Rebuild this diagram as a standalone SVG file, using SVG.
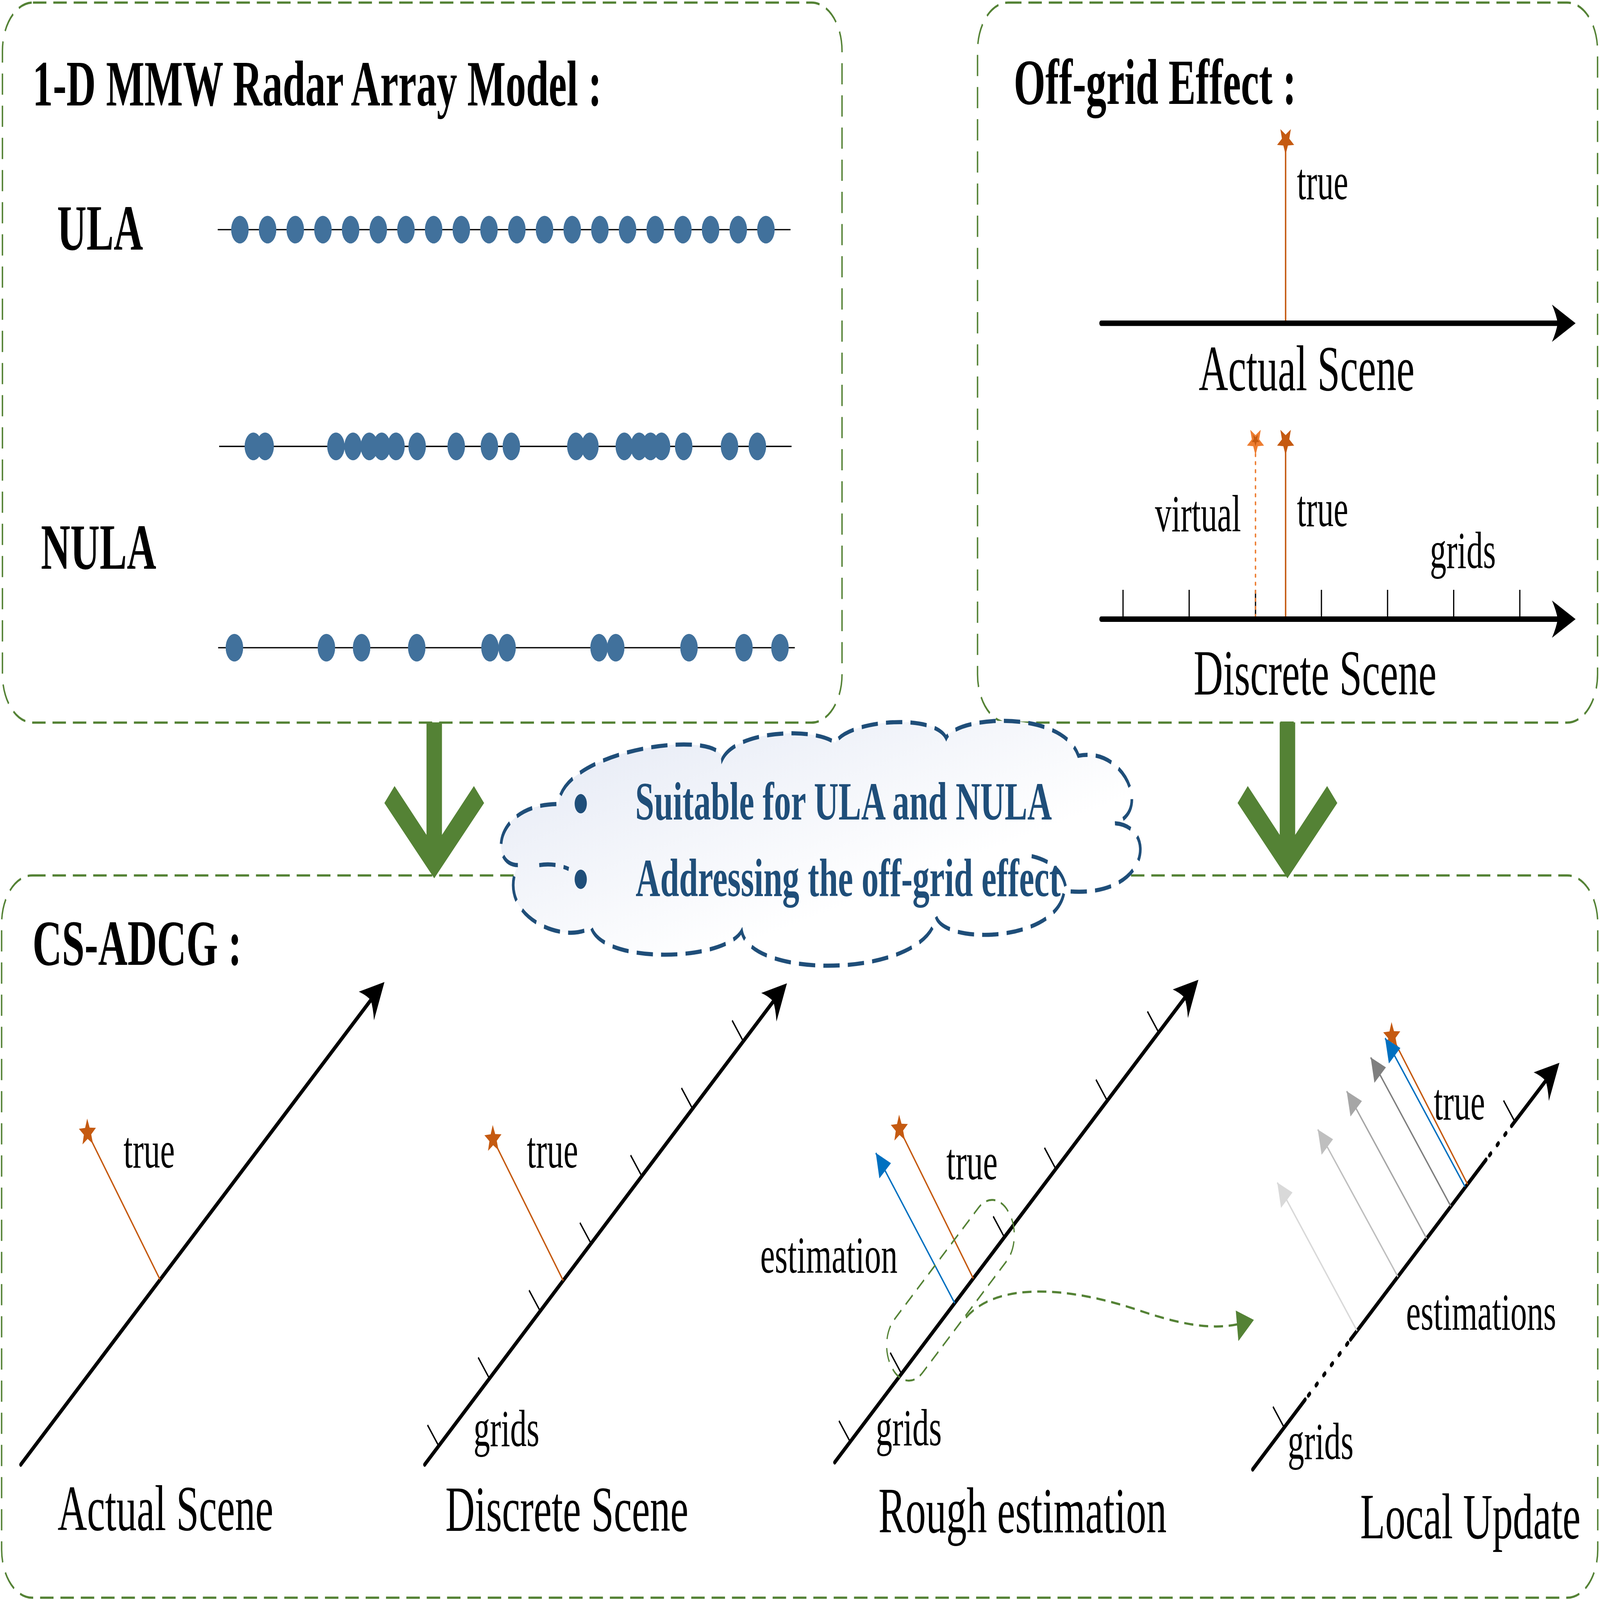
<svg xmlns="http://www.w3.org/2000/svg" width="7863" height="4975" viewBox="0 0 7863 4975" preserveAspectRatio="none">
<style>
:root{width:100vw;height:100vh}
.box{fill:none;stroke:#548235;stroke-width:7;stroke-dasharray:66 34}
.dot{fill:#41719C}
.thin{stroke:#000;stroke-width:4}
.t{font-family:"Liberation Serif","Times New Roman",serif;fill:#000}
.b{font-weight:bold}
.s{font-size:162px}
.l{font-size:200px}
.axis{stroke:#000;stroke-width:14;fill:none;stroke-linecap:round}
.haxis{stroke:#000;stroke-width:17;fill:none;stroke-linecap:round}
.dotted{stroke:#000;stroke-width:14;fill:none;stroke-linecap:round;stroke-dasharray:8 41}
.tick{stroke:#000;stroke-width:6}
.tr{stroke:#C55A11;stroke-width:7;fill:none}
.est{stroke-width:6;fill:none}
.cl{fill:none;stroke:#1F4E79;stroke-width:13;stroke-dasharray:80 40}
.ct{font-family:"Liberation Serif","Times New Roman",serif;font-weight:bold;font-size:167px;fill:#1F4E79}
.gd{fill:none;stroke:#548235;stroke-width:7;stroke-dasharray:45 28}
</style>
<defs>
<marker id="ah" markerUnits="userSpaceOnUse" orient="auto" overflow="visible" markerWidth="1" markerHeight="1" refX="0" refY="0">
<path d="M 88 0 L -28 -58 Q -6 -25 0 0 Q -6 25 -28 58 Z" fill="#000"/>
</marker>
<marker id="mb" markerUnits="userSpaceOnUse" orient="auto" overflow="visible" markerWidth="1" markerHeight="1"><path d="M 0 0 L -72 -37 L -72 37 Z" fill="#0070C0"/></marker>
<marker id="m1" markerUnits="userSpaceOnUse" orient="auto" overflow="visible" markerWidth="1" markerHeight="1"><path d="M 0 0 L -72 -37 L -72 37 Z" fill="#D9D9D9"/></marker>
<marker id="m2" markerUnits="userSpaceOnUse" orient="auto" overflow="visible" markerWidth="1" markerHeight="1"><path d="M 0 0 L -72 -37 L -72 37 Z" fill="#BFBFBF"/></marker>
<marker id="m3" markerUnits="userSpaceOnUse" orient="auto" overflow="visible" markerWidth="1" markerHeight="1"><path d="M 0 0 L -72 -37 L -72 37 Z" fill="#A6A6A6"/></marker>
<marker id="m4" markerUnits="userSpaceOnUse" orient="auto" overflow="visible" markerWidth="1" markerHeight="1"><path d="M 0 0 L -72 -37 L -72 37 Z" fill="#7F7F7F"/></marker>
<path id="star" d="M 0 44 L -11.2 15.4 L -41.9 13.6 L -18.1 -5.9 L -25.9 -35.6 L 0 -19 L 25.9 -35.6 L 18.1 -5.9 L 41.9 13.6 L 11.2 15.4 Z"/>
<linearGradient id="cg" x1="0" y1="0" x2="1" y2="1">
<stop offset="0" stop-color="#E3E8F4"/>
<stop offset="0.65" stop-color="#FFFFFF"/>
</linearGradient>
</defs>

<g id="box-array">
<rect class="box" x="12" y="8" width="4126" height="2239" rx="150" ry="150"/>
<text class="t b l" x="160" y="328">1-D MMW Radar Array Model :</text>
<text class="t b l" x="281" y="776">ULA</text>
<text class="t b l" x="201" y="1768">NULA</text>
<line class="thin" x1="1070" y1="714" x2="3885" y2="714"/>
<g class="dot">
<circle cx="1179" cy="714" r="43"/><circle cx="1315" cy="714" r="43"/><circle cx="1451" cy="714" r="43"/><circle cx="1587" cy="714" r="43"/><circle cx="1723" cy="714" r="43"/><circle cx="1859" cy="714" r="43"/><circle cx="1995" cy="714" r="43"/><circle cx="2131" cy="714" r="43"/><circle cx="2267" cy="714" r="43"/><circle cx="2403" cy="714" r="43"/><circle cx="2540" cy="714" r="43"/><circle cx="2676" cy="714" r="43"/><circle cx="2812" cy="714" r="43"/><circle cx="2948" cy="714" r="43"/><circle cx="3084" cy="714" r="43"/><circle cx="3220" cy="714" r="43"/><circle cx="3356" cy="714" r="43"/><circle cx="3492" cy="714" r="43"/><circle cx="3628" cy="714" r="43"/><circle cx="3764" cy="714" r="43"/>
</g>
<line class="thin" x1="1077" y1="1388" x2="3890" y2="1388"/>
<g class="dot">
<circle cx="1245" cy="1388" r="43"/><circle cx="1303" cy="1388" r="43"/><circle cx="1651" cy="1388" r="43"/><circle cx="1735" cy="1388" r="43"/><circle cx="1815" cy="1388" r="43"/><circle cx="1876" cy="1388" r="43"/><circle cx="1946" cy="1388" r="43"/><circle cx="2050" cy="1388" r="43"/><circle cx="2242" cy="1388" r="43"/><circle cx="2405" cy="1388" r="43"/><circle cx="2513" cy="1388" r="43"/><circle cx="2830" cy="1388" r="43"/><circle cx="2899" cy="1388" r="43"/><circle cx="3068" cy="1388" r="43"/><circle cx="3141" cy="1388" r="43"/><circle cx="3197" cy="1388" r="43"/><circle cx="3251" cy="1388" r="43"/><circle cx="3360" cy="1388" r="43"/><circle cx="3585" cy="1388" r="43"/><circle cx="3722" cy="1388" r="43"/>
</g>
<line class="thin" x1="1072" y1="2014" x2="3906" y2="2014"/>
<g class="dot">
<circle cx="1152" cy="2014" r="43"/><circle cx="1604" cy="2014" r="43"/><circle cx="1777" cy="2014" r="43"/><circle cx="2048" cy="2014" r="43"/><circle cx="2408" cy="2014" r="43"/><circle cx="2492" cy="2014" r="43"/><circle cx="2944" cy="2014" r="43"/><circle cx="3026" cy="2014" r="43"/><circle cx="3386" cy="2014" r="43"/><circle cx="3656" cy="2014" r="43"/><circle cx="3833" cy="2014" r="43"/>
</g>
</g>

<g id="box-offgrid">
<rect class="box" x="4804" y="8" width="3047" height="2239" rx="150" ry="150"/>
<text class="t b l" x="4982" y="323">Off-grid Effect :</text>
<line class="tr" x1="6318" y1="1000" x2="6318" y2="450"/>
<use href="#star" transform="translate(6318,437)" fill="#C55A11"/>
<text class="t s" x="6374" y="620">true</text>
<line class="haxis" x1="5411" y1="1005" x2="7655" y2="1005" marker-end="url(#ah)"/>
<text class="t l" x="5891" y="1214">Actual Scene</text>
<g class="tick">
<line x1="5519" y1="1834" x2="5519" y2="1925"/><line x1="5844" y1="1834" x2="5844" y2="1925"/><line x1="6170" y1="1834" x2="6170" y2="1925"/><line x1="6494" y1="1834" x2="6494" y2="1925"/><line x1="6819" y1="1834" x2="6819" y2="1925"/><line x1="7144" y1="1834" x2="7144" y2="1925"/><line x1="7469" y1="1834" x2="7469" y2="1925"/>
</g>
<line x1="6170" y1="1918" x2="6170" y2="1410" stroke="#ED7D31" stroke-width="7" stroke-dasharray="6 19" stroke-linecap="round"/>
<use href="#star" transform="translate(6170,1372)" fill="#ED7D31"/>
<use href="#star" transform="translate(6170,1368) scale(0.45)" fill="#C55A11"/>
<line class="tr" x1="6318" y1="1925" x2="6318" y2="1385"/>
<use href="#star" transform="translate(6318,1372)" fill="#C55A11"/>
<line class="haxis" x1="5411" y1="1925" x2="7655" y2="1925" marker-end="url(#ah)"/>
<text class="t s" x="5676" y="1652">virtual</text>
<text class="t s" x="6374" y="1636">true</text>
<text class="t s" x="7027" y="1766">grids</text>
<text class="t l" x="5866" y="2160">Discrete Scene</text>
</g>

<g id="box-csadcg">
<rect class="box" x="8" y="2722" width="7844" height="2246" rx="150" ry="150"/>
<text class="t b l" x="160" y="3000">CS-ADCG :</text>
</g>

<g id="connectors">
<polygon fill="#548235" points="2096,2246 2172,2246 2172,2596 2329,2444 2379,2497 2134,2731 1889,2497 1939,2444 2096,2596"/>
<polygon fill="#548235" points="6289,2246 6365,2246 6365,2596 6522,2444 6572,2497 6327,2731 6082,2497 6132,2444 6289,2596"/>
</g>

<g id="cloud">
<path fill="url(#cg)" stroke="none" d="M 2545 2690 C 2405 2690, 2425 2500, 2745 2500 C 2760 2330, 3540 2262, 3550 2360 C 3620 2270, 4000 2260, 4105 2310 C 4160 2240, 4590 2215, 4650 2295 C 4700 2225, 5220 2205, 5300 2350 C 5520 2320, 5660 2520, 5480 2560 C 5690 2570, 5650 2800, 5230 2770 C 5200 2930, 4640 2940, 4600 2850 C 4560 3040, 3690 3050, 3645 2895 C 3560 2990, 2960 3000, 2905 2883 C 2780 2940, 2430 2850, 2545 2690 Z"/>
<path class="cl" d="M 2545 2690 C 2405 2690, 2425 2500, 2745 2500 C 2760 2330, 3540 2262, 3550 2360 C 3620 2270, 4000 2260, 4105 2310 C 4160 2240, 4590 2215, 4650 2295 C 4700 2225, 5220 2205, 5300 2350 C 5520 2320, 5660 2520, 5480 2560 C 5690 2570, 5650 2800, 5230 2770 C 5200 2930, 4640 2940, 4600 2850 C 4560 3040, 3690 3050, 3645 2895 C 3560 2990, 2960 3000, 2905 2883 C 2780 2940, 2430 2850, 2545 2690 Z"/>
<path class="cl" d="M 2650 2690 Q 2725 2682 2795 2702"/>
<path class="cl" d="M 5070 2662 Q 5225 2685 5240 2770"/>
<circle cx="2854" cy="2499" r="30" fill="#1F4E79"/>
<circle cx="2854" cy="2734" r="30" fill="#1F4E79"/>
<text class="ct" x="3122" y="2548">Suitable for ULA and NULA</text>
<text class="ct" x="3124" y="2786">Addressing the off-grid effect</text>
</g>

<g id="p1">
<line class="axis" x1="102" y1="4554" x2="1822" y2="3110" marker-end="url(#ah)"/>
<line class="tr" style="stroke-width:6" x1="786" y1="3978" x2="430" y2="3522"/>
<use href="#star" transform="translate(430,3522) rotate(-38)" fill="#C55A11"/>
<text class="t s" x="607" y="3630">true</text>
<text class="t l" x="283" y="4758">Actual Scene</text>
</g>

<g id="p2">
<line class="axis" x1="2087" y1="4554" x2="3800" y2="3114" marker-end="url(#ah)"/>
<g class="tick">
<line x1="2156" y1="4496" x2="2101" y2="4431"/><line x1="2405" y1="4286" x2="2350" y2="4221"/><line x1="2655" y1="4077" x2="2600" y2="4012"/><line x1="2905" y1="3867" x2="2850" y2="3802"/><line x1="3154" y1="3657" x2="3099" y2="3592"/><line x1="3404" y1="3448" x2="3349" y2="3383"/><line x1="3653" y1="3238" x2="3598" y2="3173"/>
</g>
<line class="tr" style="stroke-width:6" x1="2768" y1="3982" x2="2423" y2="3542"/>
<use href="#star" transform="translate(2423,3542) rotate(-38)" fill="#C55A11"/>
<text class="t s" x="2589" y="3630">true</text>
<text class="t s" x="2327" y="4497">grids</text>
<text class="t l" x="2189" y="4760">Discrete Scene</text>
</g>

<g id="p3">
<line class="axis" x1="4102" y1="4547" x2="5822" y2="3103" marker-end="url(#ah)"/>
<g class="tick">
<line x1="4178" y1="4483" x2="4123" y2="4418"/><line x1="4430" y1="4271" x2="4375" y2="4206"/><line x1="4936" y1="3847" x2="4881" y2="3782"/><line x1="5188" y1="3634" x2="5133" y2="3569"/><line x1="5441" y1="3422" x2="5386" y2="3357"/><line x1="5694" y1="3210" x2="5639" y2="3145"/>
</g>
<line class="tr" style="stroke-width:6" x1="4783" y1="3975" x2="4420" y2="3510"/>
<use href="#star" transform="translate(4420,3510) rotate(-38)" fill="#C55A11"/>
<line class="est" stroke="#0070C0" x1="4692" y1="4052" x2="4304" y2="3585" marker-end="url(#mb)"/>
<rect class="gd" style="stroke-width:6" x="4296" y="3904" width="750" height="216" rx="105" ry="105" transform="rotate(-40.03 4671 4012)"/>
<path class="gd" d="M 4747 4097 C 4900 3985, 5250 4000, 5600 4075 C 5800 4118, 5950 4135, 6080 4118"/>
<polygon fill="#548235" points="6073,4075 6162,4104 6086,4170"/>
<text class="t s" x="4651" y="3667">true</text>
<text class="t s" x="3736" y="3957">estimation</text>
<text class="t s" x="4304" y="4494">grids</text>
<text class="t l" x="4317" y="4765">Rough estimation</text>
</g>

<g id="p4">
<line class="axis" x1="6156" y1="4569" x2="6414" y2="4352"/>
<line class="dotted" x1="6430" y1="4339" x2="6637" y2="4165"/>
<line class="axis" x1="6637" y1="4165" x2="7303" y2="3606"/>
<line class="dotted" x1="7320" y1="3592" x2="7428" y2="3501"/>
<line class="axis" x1="7428" y1="3501" x2="7596" y2="3361" marker-end="url(#ah)"/>
<g class="tick">
<line x1="6311" y1="4439" x2="6256" y2="4374"/><line x1="7444" y1="3487" x2="7389" y2="3422"/>
</g>
<line class="est" stroke="#D9D9D9" x1="6669" y1="4138" x2="6277" y2="3677" marker-end="url(#m1)"/>
<line class="est" stroke="#BFBFBF" x1="6870" y1="3970" x2="6476" y2="3512" marker-end="url(#m2)"/>
<line class="est" stroke="#A6A6A6" x1="7011" y1="3851" x2="6618" y2="3393" marker-end="url(#m3)"/>
<line class="est" stroke="#7F7F7F" x1="7130" y1="3751" x2="6736" y2="3288" marker-end="url(#m4)"/>
<line class="tr" style="stroke-width:6" x1="7212" y1="3682" x2="6840" y2="3222"/>
<use href="#star" transform="translate(6840,3222) rotate(-38)" fill="#C55A11"/>
<line class="est" stroke="#0070C0" x1="7200" y1="3690" x2="6807" y2="3228" marker-end="url(#mb)"/>
<text class="t s" x="7046" y="3481">true</text>
<text class="t s" x="6910" y="4135">estimations</text>
<text class="t s" x="6328" y="4536">grids</text>
<text class="t l" x="6685" y="4783">Local Update</text>
</g>
</svg>
